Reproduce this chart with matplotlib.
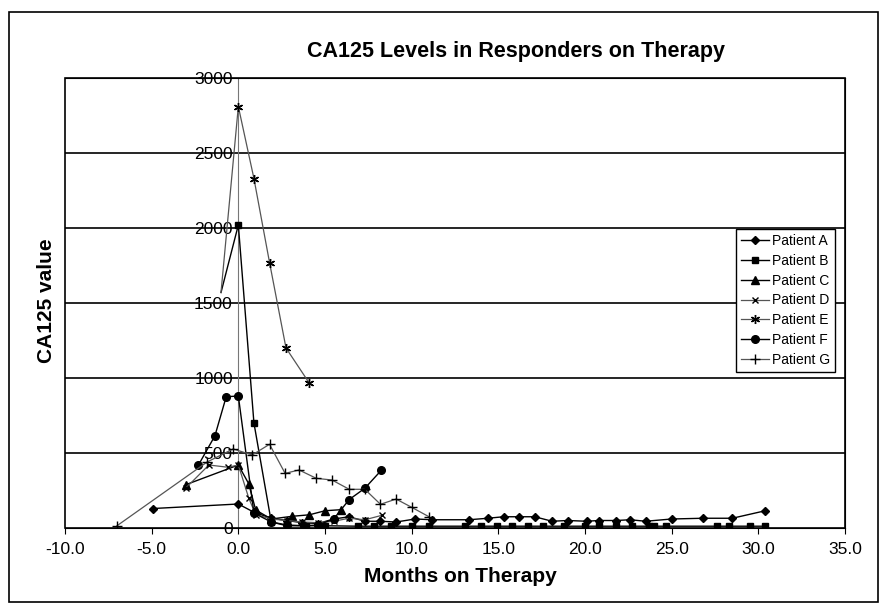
import numpy as np
import matplotlib.pyplot as plt
from matplotlib.patches import Rectangle

plt.rcParams['font.family'] = ['Liberation Sans', 'DejaVu Sans']

# months on therapy / CA125 values
a_x = [-4.9, 0.0, 0.9, 1.9, 2.8, 3.7, 4.6, 5.5, 6.4, 7.3, 8.2, 9.1, 10.2, 11.2, 13.3,
       14.4, 15.3, 16.2, 17.1, 18.1, 19.0, 20.1, 20.8, 21.8, 22.6, 23.5, 25.0, 26.8, 28.5, 30.4]
a_y = [130, 160, 105, 65, 50, 35, 30, 60, 75, 45, 45, 40, 60, 55, 55,
       65, 75, 75, 75, 45, 50, 45, 50, 50, 55, 45, 60, 65, 65, 115]

b_x = [-1.0, 0.0, 0.9, 1.9, 2.8, 3.9, 5.0, 6.9, 7.8, 8.8, 10.0, 11.0, 13.1, 14.0, 14.9,
       15.8, 16.7, 17.6, 18.8, 20.0, 20.8, 21.8, 22.7, 23.7, 24.0, 24.7, 27.6, 28.3, 29.5, 30.4]
b_y = [1570, 2020, 700, 40, 15, 15, 15, 12, 12, 12, 12, 12, 12, 12, 12,
       12, 12, 12, 12, 12, 12, 12, 12, 12, 12, 12, 12, 12, 12, 12]

c_x = [-3.0, 0.0, 0.6, 1.0, 1.9, 3.1, 4.1, 5.0, 5.9]
c_y = [290, 420, 295, 120, 60, 78, 88, 115, 122]

d_x = [-3.0, -1.7, -0.6, 0.0, 0.6, 1.0, 1.9, 2.8, 3.7, 4.6, 5.5, 6.4, 7.3, 8.3]
d_y = [270, 420, 405, 420, 200, 90, 60, 50, 40, 35, 45, 65, 55, 85]

e_x = [-1.0, 0.0, 0.9, 1.8, 2.75, 4.1]
e_y = [1570, 2810, 2330, 1770, 1200, 965]

f_x = [-2.3, -1.35, -0.7, 0.0, 0.9, 1.9, 2.8, 3.8, 4.6, 5.5, 6.4, 7.3, 8.25]
f_y = [420, 615, 875, 880, 100, 40, 20, 15, 20, 60, 190, 265, 385]

g_x = [-7.0, -1.8, -0.3, 0.8, 1.8, 2.7, 3.5, 4.5, 5.4, 6.4, 7.3, 8.2, 9.1, 10.0, 11.0]
g_y = [15, 440, 527, 487, 558, 364, 387, 331, 320, 258, 258, 158, 193, 138, 75]

x_ticks = np.arange(-10, 36, 5)
y_ticks = np.arange(0, 3001, 500)

fig = plt.figure(figsize=(8.81, 6.05), dpi=100)
ax = fig.add_axes([65 / 881, 1 - 528 / 605, 780 / 881, 450 / 605])

# outer border of the picture
fig.patches.append(Rectangle((9 / 881, 1 - 602 / 605), 869 / 881, 590 / 605,
                             transform=fig.transFigure, fill=False, ec='black', lw=1.2))

# y axis sits at x = 0, the plot area keeps its box
ax.spines['left'].set_position(('data', 0))
ax.spines['left'].set_color('#777777')
ax.spines['left'].set_linewidth(0.8)
ax.spines['left'].set_zorder(2)
ax.add_patch(Rectangle((0, 0), 1, 1, transform=ax.transAxes, fill=False,
                       ec='black', lw=1.2, zorder=4, clip_on=False))

for yv in y_ticks[1:]:
    ax.axhline(yv, color='black', lw=1.2, zorder=1)

series = [
    ('Patient A', a_x, a_y, dict(marker='D', ms=4.5, color='black', lw=1.0)),
    ('Patient B', b_x, b_y, dict(marker='s', ms=5, color='black', lw=1.0, markevery=list(range(1, len(b_x))))),
    ('Patient C', c_x, c_y, dict(marker='^', ms=5.5, color='black', lw=1.0)),
    ('Patient D', d_x, d_y, dict(marker='x', ms=5, color='#555555', mec='black', lw=0.9)),
    ('Patient E', e_x, e_y, dict(marker=(6, 2, 0), ms=6.5, color='#555555', mec='black', lw=0.9,
                                 markevery=list(range(1, len(e_x))))),
    ('Patient F', f_x, f_y, dict(marker='o', ms=5.5, color='black', lw=1.0)),
    ('Patient G', g_x, g_y, dict(marker='+', ms=7, color='#555555', mec='black', lw=0.9)),
]
for name, xs, ys, kw in series:
    ax.plot(xs, ys, label=name, zorder=3, **kw)

ax.set_xlim(-10, 35)
ax.set_ylim(0, 3000)
ax.set_xticks(x_ticks)
ax.set_xticklabels([f'{v:.1f}' for v in x_ticks])
ax.set_yticks(y_ticks)
ax.set_yticklabels([str(v) for v in y_ticks])
ax.tick_params(axis='y', length=0, pad=4, labelsize=12.5)
ax.tick_params(axis='x', direction='out', length=4, width=0.8, pad=6, labelsize=12.5)

fig.text(516 / 881, 1 - 52 / 605, 'CA125 Levels in Responders on Therapy',
         ha='center', va='center', fontsize=15.5, fontweight='bold')
fig.text(47 / 881, 1 - 301 / 605, 'CA125 value', rotation=90, ha='center', va='center',
         fontsize=15, fontweight='bold')
fig.text(460 / 881, 1 - 577 / 605, 'Months on Therapy', ha='center', va='center',
         fontsize=15, fontweight='bold')

leg = ax.legend(loc='upper left', bbox_to_anchor=(736 / 881, 1 - 229 / 605),
                bbox_transform=fig.transFigure, fontsize=10, frameon=True, fancybox=False,
                edgecolor='black', framealpha=1, borderpad=0.35, labelspacing=0.42,
                handlelength=2.0, handletextpad=0.25, borderaxespad=0)
leg.get_frame().set_linewidth(1.0)
leg.set_zorder(5)

fig.savefig('out.png', dpi=100)
